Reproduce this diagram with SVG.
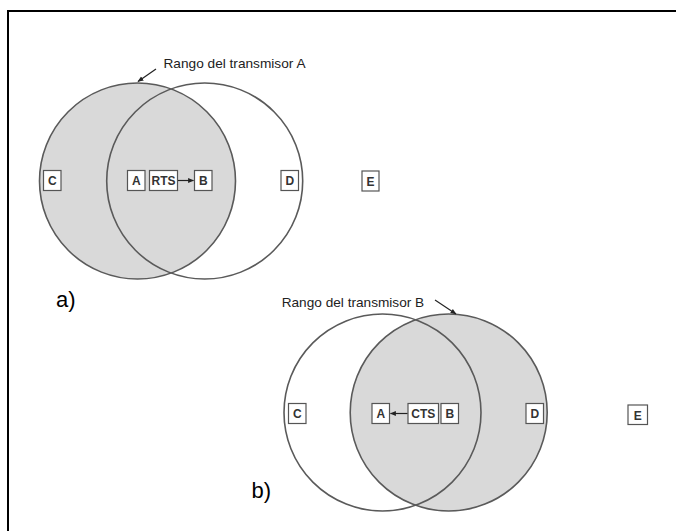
<svg xmlns="http://www.w3.org/2000/svg" width="676" height="531" viewBox="0 0 676 531">
<defs>
<style>
.range{stroke:#5a5a5a;stroke-width:1.6;fill:none}
.fillonly{fill:#d9d9d9;stroke:none}
.box{fill:#fff;stroke:#555;stroke-width:1.2}
.lbl{font-family:"Liberation Sans",Arial,sans-serif;font-size:12px;font-weight:bold;fill:#333;text-anchor:middle}
.cap{font-family:"Liberation Sans",Arial,sans-serif;font-size:13.5px;fill:#222}
.part{font-family:"Liberation Sans",Arial,sans-serif;font-size:22px;fill:#000}
.conn{stroke:#222;stroke-width:1.2;fill:none}
</style>
<marker id="ah" viewBox="0 0 10 10" refX="9" refY="5" markerWidth="6" markerHeight="6" orient="auto" markerUnits="userSpaceOnUse">
<path d="M0,1 L10,5 L0,9 z" fill="#222"/>
</marker>
</defs>
<rect x="0" y="0" width="676" height="531" fill="#fff"/>
<rect x="8" y="11" width="700" height="560" fill="none" stroke="#000" stroke-width="2"/>

<g id="range-a-A"><circle class="fillonly" cx="137.5" cy="181" r="98"/><circle class="range" cx="137.5" cy="181" r="98"/></g>
<g id="range-a-B"><circle class="range" cx="204.7" cy="181" r="98"/></g>
<g id="range-b-B"><circle class="fillonly" cx="448.7" cy="412.5" r="98.5"/><circle class="range" cx="448.7" cy="412.5" r="98.5"/></g>
<g id="range-b-A"><circle class="range" cx="382.5" cy="412.5" r="98.5"/></g>

<g id="a-C"><rect class="box" x="43.5" y="170.5" width="17.5" height="20"/><text class="lbl" x="52.3" y="185">C</text></g>
<g id="a-A"><rect class="box" x="127.5" y="170.5" width="17.5" height="20"/><text class="lbl" x="136.3" y="185">A</text></g>
<g id="a-RTS"><rect class="box" x="149.5" y="170.5" width="28" height="20"/><text class="lbl" x="163.5" y="185">RTS</text></g>
<g id="a-B"><rect class="box" x="194.5" y="170.5" width="17.5" height="20"/><text class="lbl" x="203.3" y="185">B</text></g>
<g id="a-D"><rect class="box" x="281" y="170.5" width="17.5" height="20"/><text class="lbl" x="289.8" y="185">D</text></g>
<g id="a-E"><rect class="box" x="362" y="171" width="17" height="20"/><text class="lbl" x="370.5" y="185.5">E</text></g>

<g id="b-C"><rect class="box" x="288.5" y="403.5" width="17.5" height="20"/><text class="lbl" x="297.3" y="418">C</text></g>
<g id="b-A"><rect class="box" x="372" y="403.5" width="17.5" height="20"/><text class="lbl" x="380.8" y="418">A</text></g>
<g id="b-CTS"><rect class="box" x="408" y="403.5" width="30.5" height="20"/><text class="lbl" x="423.3" y="418">CTS</text></g>
<g id="b-B"><rect class="box" x="441" y="403.5" width="17.5" height="20"/><text class="lbl" x="449.8" y="418">B</text></g>
<g id="b-D"><rect class="box" x="526" y="403.5" width="17.5" height="20"/><text class="lbl" x="534.8" y="418">D</text></g>
<g id="b-E"><rect class="box" x="628" y="405" width="19.5" height="19.5"/><text class="lbl" x="637.8" y="419.5">E</text></g>

<g id="connectors">
<line class="conn" x1="178" y1="180.5" x2="193.5" y2="180.5" marker-end="url(#ah)"/>
<line class="conn" x1="407.5" y1="413.5" x2="390.5" y2="413.5" marker-end="url(#ah)"/>
<line class="conn" x1="156" y1="69" x2="138" y2="81.5" marker-end="url(#ah)"/>
<line class="conn" x1="435" y1="300" x2="456" y2="314" marker-end="url(#ah)"/>
</g>

<g id="labels">
<text class="cap" x="163.5" y="68.3" textLength="142" lengthAdjust="spacingAndGlyphs">Rango del transmisor A</text>
<text class="cap" x="281.7" y="306.7" textLength="142.5" lengthAdjust="spacingAndGlyphs">Rango del transmisor B</text>
<text class="part" x="56" y="307">a)</text>
<text class="part" x="251.5" y="498">b)</text>
</g>
</svg>
